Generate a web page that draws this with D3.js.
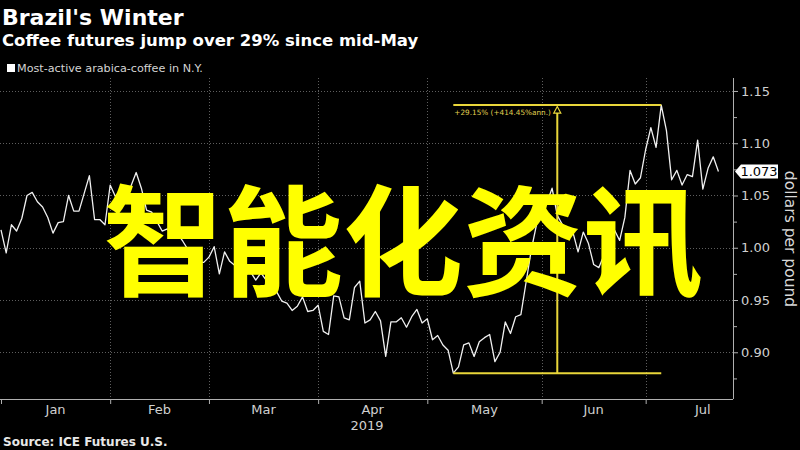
<!DOCTYPE html>
<html><head><meta charset="utf-8">
<script src="https://cdn.jsdelivr.net/npm/d3@7"></script>
<style>body{margin:0;background:#000;} svg{display:block;}</style>
</head><body>
<svg id="c" width="800" height="450"></svg>
<script>
// ---------- data ----------
const titleText = "Brazil's Winter";
const subtitleText = "Coffee futures jump over 29% since mid-May";
const legendText = "Most-active arabica-coffee in N.Y.";
const sourceText = "Source: ICE Futures U.S.";
const unitText = "dollars per pound";
const overlayText = "智能化资讯";
const annotationText = "+29.15% (+414.45%ann.)";
const yearLabel = "2019";
const firstDay = "2019-01-02";
const holidays = ["2019-01-01","2019-01-21","2019-02-18","2019-04-19","2019-05-27","2019-07-04"];
const monthNames = ["Jan","Feb","Mar","Apr","May","Jun","Jul"];
const majorTicks = [0.90,0.95,1.00,1.05,1.10,1.15];
const minorTicks = [0.875,0.925,0.975,1.025,1.075,1.125];
// daily settle, $/lb, one per trading day from 2 Jan 2019
const prices = [
1.017,0.995,1.022,1.016,1.028,1.050,1.053,1.044,1.039,1.029,
1.014,1.024,1.025,1.050,1.035,1.035,1.052,1.069,1.027,1.027,
1.022,1.060,1.049,1.055,1.048,1.059,1.072,1.057,1.036,1.034,
1.025,1.016,1.018,1.011,1.013,1.006,0.998,0.992,0.986,0.986,
0.991,1.001,0.975,0.996,0.987,0.983,0.979,0.974,0.977,0.969,
0.976,0.969,0.962,0.958,0.949,0.947,0.940,0.944,0.953,0.939,
0.940,0.945,0.920,0.917,0.954,0.953,0.933,0.931,0.962,0.968,
0.928,0.931,0.939,0.930,0.896,0.929,0.929,0.933,0.924,0.934,
0.941,0.928,0.932,0.912,0.916,0.907,0.902,0.880,0.886,0.907,
0.909,0.896,0.910,0.914,0.917,0.891,0.900,0.929,0.918,0.934,
0.936,0.967,0.998,1.022,1.039,1.043,1.057,1.031,1.022,1.019,
1.015,0.996,1.015,1.004,0.984,0.981,0.993,1.006,1.017,1.007,
1.029,1.074,1.061,1.067,1.094,1.115,1.096,1.1365,1.112,1.065,
1.074,1.060,1.070,1.068,1.103,1.056,1.076,1.087,1.073
];

// ---------- trading calendar ----------
const parse = d3.timeParse("%Y-%m-%d"), fmt = d3.timeFormat("%Y-%m-%d");
const hol = new Set(holidays);
const calendar = [];
for (let d = parse(firstDay); d < parse("2019-08-02"); d = d3.timeDay.offset(d, 1)) {
  const wd = d.getDay();
  if (wd === 0 || wd === 6 || hol.has(fmt(d))) continue;
  calendar.push(d);
}
const data = prices.map((v, i) => ({i, date: calendar[i], v}));
const monthStart = [];
for (let m = 0; m <= 7; m++) monthStart.push(calendar.findIndex(d => d.getMonth() === m));

// ---------- layout ----------
const W = 800, H = 450;
const L = 1, R = 733, T = 78, B = 399;
const svg = d3.select("#c");
svg.append("rect").attr("width", W).attr("height", H).attr("fill", "#000");

const x = d3.scaleLinear().domain([0, 140.8]).range([L, R]);
const y = d3.scaleLinear().domain([0.8553, 1.1624]).range([B, T]);

const font = "DejaVu Sans, Verdana, sans-serif";

// grid
const grid = svg.append("g").attr("stroke", "#5e5e5e").attr("stroke-dasharray", "1,2").attr("stroke-width", 1);
grid.selectAll("line.h").data(majorTicks).join("line")
  .attr("x1", 0).attr("x2", R).attr("y1", d => Math.round(y(d)) + 0.5).attr("y2", d => Math.round(y(d)) + 0.5);
grid.selectAll("line.v").data(monthStart.slice(1, 7)).join("line")
  .attr("y1", T).attr("y2", B).attr("x1", d => Math.round(x(d)) + 0.5).attr("x2", d => Math.round(x(d)) + 0.5);

// x axis
const xAxis = svg.append("g").attr("transform", `translate(0,${B})`)
  .call(d3.axisBottom(x).tickValues(monthStart.slice(0, 7)).tickFormat("").tickSize(5).tickSizeOuter(0));
xAxis.select(".domain").attr("d", `M0,0.5H${R}`).attr("stroke", "#b0b0b0");
xAxis.selectAll(".tick line").attr("stroke", "#b0b0b0");
svg.append("g").selectAll("text").data(monthNames).join("text")
  .attr("x", (d, k) => x((monthStart[k] + monthStart[k + 1]) / 2))
  .attr("y", 414).attr("text-anchor", "middle")
  .attr("font-family", font).attr("font-size", 13).attr("fill", "#d0d0d0").text(d => d);
svg.append("text").attr("x", x(x.domain()[1] / 2)).attr("y", 430).attr("text-anchor", "middle")
  .attr("font-family", font).attr("font-size", 13).attr("fill", "#d0d0d0").text(yearLabel);

// y axis (right)
const yAxis = svg.append("g").attr("transform", `translate(${R},0)`)
  .call(d3.axisRight(y).tickValues(majorTicks).tickFormat(d3.format(".2f")).tickSize(5).tickSizeOuter(0));
yAxis.select(".domain").attr("d", `M0.5,${T}V${B}`).attr("stroke", "#b0b0b0");
yAxis.selectAll(".tick line").attr("stroke", "#b0b0b0");
yAxis.selectAll(".tick text").attr("font-family", font).attr("font-size", 13).attr("fill", "#d0d0d0").attr("x", 8);
const yMinor = svg.append("g").attr("transform", `translate(${R},0)`)
  .call(d3.axisRight(y).tickValues(minorTicks).tickFormat("").tickSize(4).tickSizeOuter(0));
yMinor.select(".domain").remove();
yMinor.selectAll(".tick line").attr("stroke", "#b0b0b0");

svg.append("text").attr("transform", `translate(785,239) rotate(90)`).attr("text-anchor", "middle")
  .attr("font-family", font).attr("font-size", 15.5).attr("fill", "#d8d8d8").text(unitText);

// line
svg.append("clipPath").attr("id", "clip").append("rect").attr("x", 0).attr("y", T).attr("width", R).attr("height", B - T);
svg.append("path").datum(data).attr("clip-path", "url(#clip)")
  .attr("fill", "none").attr("stroke", "#f0f0f0").attr("stroke-width", 1.3).attr("stroke-linejoin", "round")
  .attr("d", d3.line().x(d => x(d.i)).y(d => y(d.v)));

// annotation
const lo = d3.minIndex(prices), hi = d3.maxIndex(prices);
const ax1 = x(lo), ax2 = x(hi), am = (ax1 + ax2) / 2;
const yLo = y(prices[lo]), yHi = y(prices[hi]);
const ann = svg.append("g").attr("stroke", "#e9d63a").attr("stroke-width", 2).attr("fill", "none");
ann.append("line").attr("x1", ax1).attr("x2", ax2).attr("y1", yLo).attr("y2", yLo);
ann.append("line").attr("x1", ax1).attr("x2", ax2).attr("y1", yHi).attr("y2", yHi);
ann.append("line").attr("x1", am).attr("x2", am).attr("y1", yLo).attr("y2", yHi + 8);
ann.append("path").attr("stroke-width", 1.2).attr("d", `M${am},${yHi + 1.5}L${am - 3.5},${yHi + 8}L${am + 3.5},${yHi + 8}Z`);
svg.append("text").attr("x", ax1 + 1).attr("y", yHi + 10).attr("font-family", font).attr("font-size", 7.3)
  .attr("fill", "#e0d050").text(annotationText);

// last price label
const last = data[data.length - 1];
const ly = y(last.v);
svg.append("path").attr("fill", "#fff")
  .attr("d", `M${R + 2},${ly}L${R + 8},${ly - 7}H${R + 45}V${ly + 7}H${R + 8}Z`);
svg.append("text").attr("x", R + 26).attr("y", ly).attr("dy", "0.36em").attr("text-anchor", "middle")
  .attr("font-family", font).attr("font-size", 13).attr("fill", "#000").text(d3.format(".3f")(last.v));

// titles
svg.append("text").attr("x", 2).attr("y", 25).attr("font-family", font).attr("font-weight", "bold")
  .attr("font-size", 22).attr("fill", "#fff").text(titleText);
svg.append("text").attr("x", 2).attr("y", 46).attr("font-family", font).attr("font-weight", "bold")
  .attr("font-size", 16.5).attr("fill", "#fff").text(subtitleText);
svg.append("rect").attr("x", 7).attr("y", 64).attr("width", 8).attr("height", 8).attr("fill", "#fff");
svg.append("text").attr("x", 17).attr("y", 72).attr("font-family", font)
  .attr("font-size", 11.2).attr("fill", "#d4d4d4").text(legendText);
svg.append("text").attr("x", 3).attr("y", 446).attr("font-family", font).attr("font-weight", "bold")
  .attr("font-size", 12).attr("fill", "#e8e8e8").text(sourceText);

// overlay watermark
svg.append("text").attr("x", 403).attr("y", 235).attr("text-anchor", "middle").attr("dominant-baseline", "central")
  .attr("font-family", "Noto Sans CJK SC").attr("font-weight", 700).attr("font-size", 120)
  .attr("fill", "#ffff00").text(overlayText);
</script>
</body></html>
